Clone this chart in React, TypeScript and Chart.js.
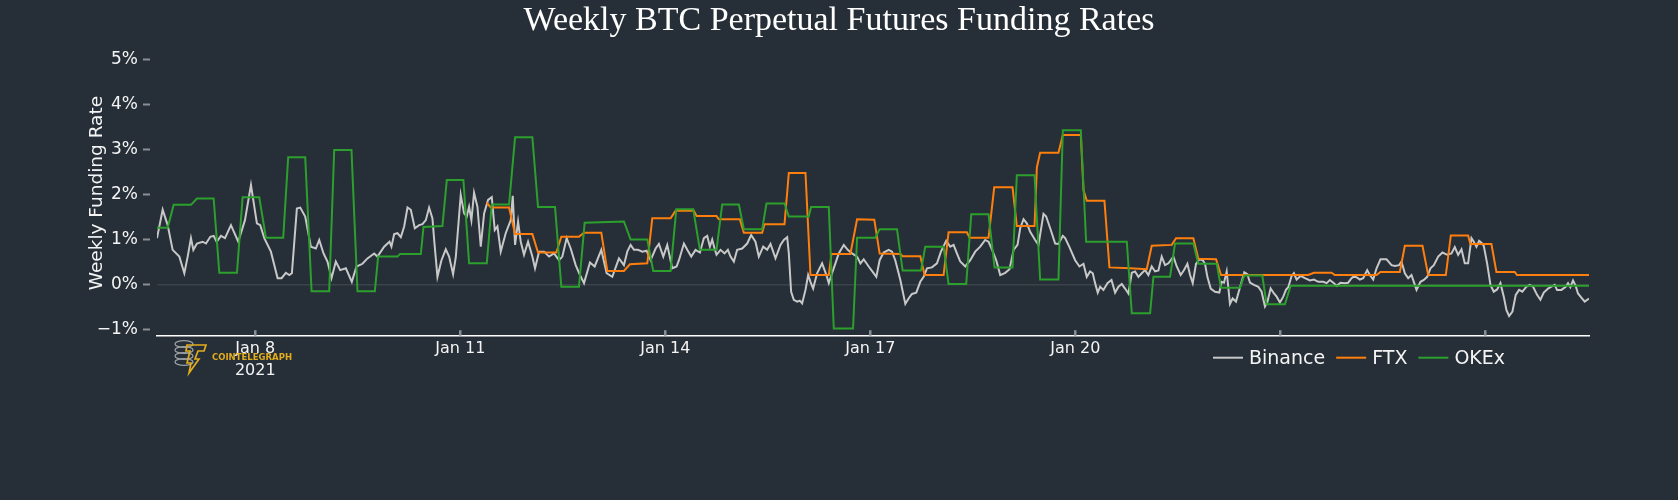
import React, { useEffect, useRef } from 'react';
import { Chart, registerables } from 'chart.js';

Chart.register(...registerables);

// ---------- data ----------
const TITLE = 'Weekly BTC Perpetual Futures Funding Rates';
const Y_TITLE = 'Weekly Funding Rate';
const SERIES_NAMES = ['Binance', 'FTX', 'OKEx'];

// x values are days of January 2021 (8.0 = Jan 8, 00:00)
const X_MIN = 6.562;
const X_MAX = 27.518;
const Y_MIN = -1.138;
const Y_MAX = 5.2;

const xTickDays = [8, 11, 14, 17, 20, 23, 26];
const xTickLabels: (string | string[])[] = [['Jan 8', '2021'], 'Jan 11', 'Jan 14', 'Jan 17', 'Jan 20', '', ''];
const yTickValues = [-1, 0, 1, 2, 3, 4, 5];

// [day, funding rate %]
const binance: [number, number][] = [
  [6.562, 1.03], [6.645, 1.66], [6.718, 1.32], [6.791, 0.77], [6.889, 0.62], [6.962, 0.25], [7.011, 0.62], [7.059, 1.03],
  [7.094, 0.77], [7.147, 0.91], [7.23, 0.95], [7.279, 0.91], [7.342, 1.06], [7.391, 1.08], [7.435, 0.95], [7.498, 1.08],
  [7.557, 1.03], [7.644, 1.32], [7.751, 0.95], [7.849, 1.43], [7.937, 2.21], [8.024, 1.36], [8.073, 1.32], [8.132, 1.03],
  [8.229, 0.73], [8.327, 0.14], [8.385, 0.14], [8.448, 0.26], [8.497, 0.21], [8.536, 0.25], [8.609, 1.69], [8.658, 1.71],
  [8.731, 1.51], [8.814, 0.84], [8.887, 0.8], [8.936, 0.99], [8.999, 0.69], [9.057, 0.51], [9.116, 0.14], [9.179, 0.51],
  [9.243, 0.32], [9.326, 0.36], [9.413, 0.06], [9.481, 0.4], [9.569, 0.46], [9.642, 0.58], [9.74, 0.69], [9.788, 0.62],
  [9.886, 0.84], [9.964, 0.95], [9.993, 0.84], [10.033, 1.12], [10.081, 1.14], [10.13, 1.05], [10.179, 1.29], [10.228, 1.71],
  [10.276, 1.66], [10.335, 1.25], [10.398, 1.32], [10.447, 1.34], [10.496, 1.43], [10.544, 1.71], [10.593, 1.47], [10.618, 0.99],
  [10.666, 0.17], [10.725, 0.54], [10.788, 0.78], [10.837, 0.62], [10.895, 0.23], [10.934, 0.6], [11.007, 1.99], [11.056, 1.58],
  [11.095, 1.51], [11.129, 1.73], [11.163, 1.43], [11.202, 2.04], [11.251, 1.73], [11.3, 0.84], [11.349, 1.58], [11.407, 1.88],
  [11.461, 1.94], [11.505, 1.21], [11.544, 1.29], [11.592, 0.73], [11.665, 1.14], [11.739, 1.43], [11.768, 1.97], [11.802, 0.88],
  [11.846, 1.4], [11.885, 0.95], [11.933, 0.66], [11.992, 0.95], [12.055, 0.62], [12.094, 0.36], [12.153, 0.73], [12.226, 0.73],
  [12.299, 0.62], [12.372, 0.69], [12.445, 0.54], [12.494, 0.62], [12.557, 1.03], [12.616, 0.8], [12.689, 0.43], [12.752, 0.21],
  [12.811, 0.03], [12.898, 0.49], [12.967, 0.4], [13.064, 0.77], [13.142, 0.25], [13.225, 0.17], [13.322, 0.58], [13.395, 0.43],
  [13.444, 0.73], [13.493, 0.88], [13.542, 0.77], [13.6, 0.77], [13.664, 0.73], [13.727, 0.75], [13.785, 0.54], [13.859, 0.8],
  [13.907, 0.9], [13.971, 0.62], [14.029, 0.88], [14.102, 0.36], [14.166, 0.4], [14.2, 0.54], [14.273, 0.91], [14.322, 0.77],
  [14.38, 0.62], [14.443, 0.77], [14.507, 0.71], [14.565, 1.03], [14.614, 1.08], [14.653, 0.84], [14.687, 1.0], [14.721, 0.8],
  [14.75, 0.66], [14.809, 0.77], [14.867, 0.69], [14.916, 0.77], [14.955, 0.62], [15.004, 0.51], [15.052, 0.77], [15.126, 0.8],
  [15.199, 0.91], [15.257, 1.1], [15.32, 0.95], [15.369, 0.62], [15.433, 0.84], [15.491, 0.77], [15.54, 0.9], [15.613, 0.58],
  [15.686, 0.88], [15.735, 0.99], [15.784, 1.05], [15.808, 0.69], [15.842, -0.16], [15.881, -0.34], [15.93, -0.38], [15.969, -0.36],
  [16.003, -0.42], [16.052, -0.12], [16.091, 0.21], [16.125, 0.06], [16.164, -0.09], [16.222, 0.25], [16.295, 0.47], [16.358, 0.21],
  [16.393, 0.03], [16.441, 0.25], [16.49, 0.47], [16.539, 0.69], [16.612, 0.88], [16.67, 0.77], [16.734, 0.69], [16.807, 0.62],
  [16.856, 0.47], [16.904, 0.56], [16.977, 0.4], [17.041, 0.27], [17.089, 0.17], [17.137, 0.54], [17.196, 0.71], [17.269, 0.77],
  [17.318, 0.73], [17.366, 0.54], [17.44, 0.1], [17.513, -0.43], [17.561, -0.31], [17.61, -0.21], [17.673, -0.18], [17.732, 0.06],
  [17.781, 0.17], [17.83, 0.36], [17.903, 0.38], [17.976, 0.47], [18.034, 0.73], [18.112, 0.97], [18.171, 0.84], [18.219, 0.88],
  [18.268, 0.69], [18.317, 0.51], [18.39, 0.4], [18.463, 0.54], [18.536, 0.73], [18.609, 0.84], [18.682, 0.99], [18.731, 0.95],
  [18.78, 0.78], [18.843, 0.54], [18.902, 0.21], [18.975, 0.26], [19.038, 0.34], [19.097, 0.77], [19.155, 0.88], [19.194, 1.25],
  [19.243, 1.45], [19.291, 1.36], [19.34, 1.17], [19.413, 0.99], [19.462, 0.88], [19.535, 1.57], [19.574, 1.51], [19.633, 1.25],
  [19.706, 0.91], [19.754, 0.9], [19.818, 1.08], [19.852, 1.03], [19.915, 0.83], [19.998, 0.54], [20.061, 0.4], [20.12, 0.46],
  [20.168, 0.17], [20.217, 0.29], [20.256, 0.25], [20.29, 0.03], [20.329, -0.18], [20.364, -0.05], [20.412, -0.12], [20.471, 0.03],
  [20.53, 0.1], [20.583, -0.18], [20.632, -0.05], [20.681, 0.01], [20.729, -0.09], [20.778, -0.2], [20.827, 0.26], [20.875, 0.29],
  [20.924, 0.17], [20.973, 0.25], [21.022, 0.32], [21.07, 0.21], [21.119, 0.4], [21.168, 0.29], [21.217, 0.31], [21.265, 0.62],
  [21.314, 0.43], [21.363, 0.47], [21.436, 0.62], [21.485, 0.4], [21.543, 0.21], [21.592, 0.32], [21.641, 0.46], [21.68, 0.21],
  [21.719, 0.03], [21.767, 0.46], [21.816, 0.56], [21.865, 0.54], [21.899, 0.46], [21.933, 0.17], [21.982, -0.09], [22.045, -0.16],
  [22.108, -0.18], [22.143, 0.06], [22.177, 0.04], [22.216, 0.29], [22.264, -0.43], [22.303, -0.31], [22.352, -0.38], [22.42, -0.01],
  [22.474, 0.27], [22.518, 0.23], [22.557, 0.04], [22.615, -0.01], [22.679, -0.05], [22.727, -0.16], [22.776, -0.49], [22.81, -0.4],
  [22.859, -0.09], [22.908, -0.2], [22.947, -0.27], [22.995, -0.4], [23.044, -0.27], [23.083, -0.12], [23.117, -0.06], [23.166, 0.19],
  [23.2, 0.25], [23.239, 0.11], [23.297, 0.19], [23.361, 0.14], [23.434, 0.09], [23.493, 0.11], [23.556, 0.06], [23.629, 0.06],
  [23.678, 0.03], [23.726, 0.1], [23.785, 0.03], [23.824, -0.03], [23.882, 0.04], [23.946, 0.03], [23.994, 0.04], [24.043, 0.14],
  [24.068, 0.17], [24.116, 0.16], [24.165, 0.11], [24.214, 0.14], [24.272, 0.32], [24.311, 0.21], [24.36, 0.11], [24.409, 0.36],
  [24.467, 0.56], [24.555, 0.56], [24.628, 0.43], [24.677, 0.41], [24.74, 0.43], [24.774, 0.51], [24.823, 0.25], [24.872, 0.14],
  [24.92, 0.21], [24.994, -0.12], [25.052, 0.06], [25.101, 0.1], [25.15, 0.17], [25.198, 0.36], [25.247, 0.43], [25.311, 0.62],
  [25.374, 0.71], [25.442, 0.66], [25.505, 0.69], [25.554, 0.83], [25.603, 0.66], [25.652, 0.78], [25.7, 0.47], [25.749, 0.47],
  [25.798, 1.03], [25.832, 0.95], [25.871, 0.84], [25.91, 0.97], [25.944, 0.93], [25.978, 0.86], [26.027, 0.47], [26.076, -0.01],
  [26.124, -0.16], [26.173, -0.11], [26.222, 0.03], [26.271, -0.27], [26.31, -0.57], [26.349, -0.7], [26.398, -0.6], [26.446, -0.23],
  [26.495, -0.12], [26.543, -0.16], [26.602, -0.05], [26.651, -0.01], [26.7, -0.05], [26.758, -0.23], [26.807, -0.34], [26.856, -0.18],
  [26.919, -0.09], [26.967, -0.05], [27.016, -0.01], [27.05, -0.12], [27.114, -0.12], [27.177, -0.05], [27.211, 0.03], [27.245, -0.06],
  [27.284, 0.09], [27.323, -0.03], [27.357, -0.2], [27.406, -0.29], [27.455, -0.38], [27.518, -0.31],
];

const ftx: [number, number][] = [
  [11.388, 1.82], [11.446, 1.71], [11.714, 1.71], [11.802, 1.12], [12.055, 1.12], [12.138, 0.71], [12.406, 0.71], [12.479, 1.06],
  [12.737, 1.06], [12.811, 1.15], [13.064, 1.15], [13.152, 0.3], [13.395, 0.3], [13.483, 0.45], [13.737, 0.47], [13.81, 1.47],
  [14.078, 1.47], [14.151, 1.64], [14.419, 1.64], [14.458, 1.52], [14.75, 1.52], [14.784, 1.45], [15.091, 1.45], [15.15, 1.15],
  [15.418, 1.15], [15.452, 1.34], [15.745, 1.34], [15.808, 2.48], [16.052, 2.48], [16.125, 0.21], [16.393, 0.21], [16.432, 0.68],
  [16.709, 0.68], [16.807, 1.45], [17.059, 1.44], [17.137, 0.69], [17.44, 0.68], [17.474, 0.63], [17.732, 0.63], [17.795, 0.21],
  [18.073, 0.21], [18.146, 1.16], [18.414, 1.16], [18.453, 1.04], [18.731, 1.04], [18.814, 2.16], [19.082, 2.16], [19.145, 1.3],
  [19.404, 1.3], [19.438, 2.6], [19.486, 2.93], [19.754, 2.93], [19.818, 3.32], [20.081, 3.32], [20.12, 2.1], [20.168, 1.86],
  [20.427, 1.86], [20.5, 0.38], [20.802, 0.36], [21.046, 0.34], [21.119, 0.86], [21.412, 0.88], [21.475, 1.03], [21.728, 1.03],
  [21.801, 0.57], [22.06, 0.56], [22.133, 0.21], [23.41, 0.21], [23.493, 0.26], [23.751, 0.26], [23.799, 0.21], [24.409, 0.21],
  [24.467, 0.28], [24.75, 0.28], [24.823, 0.86], [25.081, 0.86], [25.164, 0.21], [25.423, 0.21], [25.496, 1.09], [25.749, 1.09],
  [25.783, 0.9], [26.09, 0.9], [26.163, 0.28], [26.431, 0.28], [26.465, 0.21], [27.518, 0.21],
];

const okex: [number, number][] = [
  [6.562, 1.26], [6.718, 1.26], [6.806, 1.77], [7.059, 1.77], [7.147, 1.91], [7.391, 1.91], [7.474, 0.26], [7.732, 0.26],
  [7.815, 1.94], [8.058, 1.94], [8.156, 1.04], [8.409, 1.04], [8.482, 2.83], [8.731, 2.83], [8.824, -0.15], [9.082, -0.15],
  [9.155, 2.99], [9.408, 2.99], [9.496, -0.15], [9.75, -0.15], [9.798, 0.62], [10.081, 0.62], [10.12, 0.68], [10.423, 0.68],
  [10.462, 1.28], [10.739, 1.3], [10.803, 2.32], [11.046, 2.32], [11.129, 0.47], [11.388, 0.47], [11.461, 1.78], [11.714, 1.78],
  [11.802, 3.27], [12.055, 3.27], [12.138, 1.72], [12.387, 1.72], [12.479, -0.05], [12.737, -0.05], [12.82, 1.37], [13.395, 1.4],
  [13.493, 1.0], [13.737, 1.0], [13.824, 0.3], [14.078, 0.3], [14.161, 1.67], [14.409, 1.67], [14.507, 0.77], [14.75, 0.77],
  [14.833, 1.78], [15.077, 1.78], [15.15, 1.23], [15.418, 1.23], [15.481, 1.8], [15.745, 1.8], [15.808, 1.51], [16.1, 1.51],
  [16.134, 1.72], [16.393, 1.72], [16.466, -0.98], [16.748, -0.98], [16.807, 1.04], [17.074, 1.04], [17.137, 1.23], [17.391, 1.23],
  [17.474, 0.31], [17.742, 0.31], [17.805, 0.84], [18.073, 0.84], [18.146, 0.01], [18.404, 0.01], [18.478, 1.56], [18.731, 1.56],
  [18.819, 0.38], [19.082, 0.38], [19.145, 2.43], [19.404, 2.43], [19.486, 0.11], [19.754, 0.11], [19.818, 3.43], [20.081, 3.43],
  [20.159, 0.95], [20.754, 0.95], [20.827, -0.64], [21.095, -0.64], [21.144, 0.17], [21.387, 0.17], [21.46, 0.91], [21.728, 0.91],
  [21.801, 0.46], [22.07, 0.46], [22.133, -0.07], [22.411, -0.07], [22.474, 0.2], [22.737, 0.2], [22.8, -0.44], [23.068, -0.44],
  [23.151, -0.03], [27.518, -0.03],
];

// ---------- styling ----------
const BG = '#262f37';
const TEXT = '#f4f4f4';
const TICK_MARK = '#8a8f93';
const ZERO_LINE = '#3b434a';
const COLORS = ['#c8c8c8', '#ff7f0e', '#2ca02c'];
const SANS = '"DejaVu Sans", Verdana, sans-serif';
const SERIF = '"Liberation Serif", "Times New Roman", serif';

const fmtPct = (v: number) => (v < 0 ? '\u2212' : '') + Math.abs(v) + '%';

const decorPlugin = {
  id: 'decor',
  beforeDatasetsDraw(chart: any) {
    const { ctx, chartArea, scales } = chart;
    ctx.save();
    ctx.strokeStyle = TICK_MARK;
    // x tick marks (inside, above the axis line)
    ctx.lineWidth = 2.5;
    scales.x.ticks.forEach((t: any) => {
      const px = scales.x.getPixelForValue(t.value);
      ctx.beginPath();
      ctx.moveTo(px, chartArea.bottom - 5.5);
      ctx.lineTo(px, chartArea.bottom);
      ctx.stroke();
    });
    // y tick marks (outside, with a gap)
    ctx.lineWidth = 2;
    scales.y.ticks.forEach((t: any) => {
      const py = scales.y.getPixelForValue(t.value);
      ctx.beginPath();
      ctx.moveTo(chartArea.left - 14, py);
      ctx.lineTo(chartArea.left - 7, py);
      ctx.stroke();
    });
    ctx.restore();
  },
  afterDraw(chart: any) {
    const { ctx, chartArea } = chart;
    ctx.save();
    // title
    ctx.fillStyle = '#ffffff';
    ctx.font = `34px ${SERIF}`;
    ctx.textAlign = 'center';
    ctx.textBaseline = 'alphabetic';
    ctx.fillText(TITLE, chart.width / 2, 29.5);

    // legend
    let lx = 1213;
    const ly = chartArea.bottom + 22;
    ctx.font = `19px ${SANS}`;
    ctx.textAlign = 'left';
    ctx.textBaseline = 'middle';
    chart.data.datasets.forEach((ds: any) => {
      ctx.strokeStyle = ds.borderColor;
      ctx.lineWidth = 2;
      ctx.beginPath();
      ctx.moveTo(lx, ly);
      ctx.lineTo(lx + 30, ly);
      ctx.stroke();
      ctx.fillStyle = TEXT;
      ctx.fillText(ds.label, lx + 36, ly + 1);
      lx += 36 + ctx.measureText(ds.label).width + 11;
    });

    // watermark logo
    ctx.strokeStyle = '#9a9ea2';
    ctx.lineWidth = 1.3;
    [344, 350, 356, 362].forEach((cy) => {
      ctx.beginPath();
      ctx.ellipse(184, cy, 9, 3.4, 0, 0, Math.PI * 2);
      ctx.stroke();
    });
    ctx.strokeStyle = '#e2ac1c';
    ctx.lineWidth = 1.7;
    ctx.beginPath();
    ctx.moveTo(187, 345);
    ctx.lineTo(206, 345);
    ctx.lineTo(204, 351);
    ctx.lineTo(198, 351);
    ctx.lineTo(195, 359);
    ctx.lineTo(199, 359);
    ctx.lineTo(189, 373);
    ctx.lineTo(191, 363);
    ctx.lineTo(187, 363);
    ctx.lineTo(190, 351);
    ctx.lineTo(186, 351);
    ctx.closePath();
    ctx.stroke();
    ctx.fillStyle = '#e2ac1c';
    ctx.font = `bold 9.5px ${SANS}`;
    ctx.textBaseline = 'middle';
    ctx.fillText('COINTELEGRAPH', 212, 357.5, 80);
    ctx.restore();
  },
};

export default function App() {
  const ref = useRef<HTMLCanvasElement | null>(null);

  useEffect(() => {
    if (!ref.current) return;
    const series = [binance, ftx, okex];
    const chart = new Chart(ref.current, {
      type: 'line',
      data: {
        datasets: series.map((s, i) => ({
          label: SERIES_NAMES[i],
          data: s.map(([x, y]) => ({ x, y })),
          borderColor: COLORS[i],
          backgroundColor: COLORS[i],
          borderWidth: 2,
          pointRadius: 0,
          tension: 0,
          fill: false,
          order: 3 - i,
        })),
      },
      options: {
        responsive: false,
        animation: false,
        events: [],
        layout: { padding: { top: 50.5, right: 89, bottom: 0, left: 0 } },
        plugins: {
          legend: { display: false },
          title: { display: false },
          tooltip: { enabled: false },
        },
        scales: {
          x: {
            type: 'linear',
            min: X_MIN,
            max: X_MAX,
            afterBuildTicks: (s: any) => {
              s.ticks = xTickDays.map((v) => ({ value: v }));
            },
            afterFit: (s: any) => {
              s.height = 500 - 335.7;
            },
            grid: { display: false, drawTicks: false },
            border: { display: true, color: '#ffffff', width: 1.5 },
            ticks: {
              color: TEXT,
              font: { family: SANS, size: 16, lineHeight: 1.38 },
              padding: 2,
              maxRotation: 0,
              autoSkip: false,
              callback: (_v: any, i: number) => xTickLabels[i],
            },
          },
          y: {
            type: 'linear',
            min: Y_MIN,
            max: Y_MAX,
            afterBuildTicks: (s: any) => {
              s.ticks = yTickValues.map((v) => ({ value: v }));
            },
            afterFit: (s: any) => {
              s.width = 157;
            },
            grid: {
              drawTicks: false,
              lineWidth: 1.6,
              color: (c: any) => (c.tick && c.tick.value === 0 ? ZERO_LINE : 'rgba(0,0,0,0)'),
            },
            border: { display: false },
            ticks: {
              color: TEXT,
              font: { family: SANS, size: 17 },
              padding: 19,
              callback: (v: any) => fmtPct(Number(v)),
            },
            title: {
              display: true,
              text: Y_TITLE,
              color: TEXT,
              font: { family: SANS, size: 18.5 },
              padding: { top: 85.6, bottom: 0 },
            },
          },
        },
      },
      plugins: [decorPlugin],
    });
    return () => chart.destroy();
  }, []);

  return (
    <div style={{ position: 'fixed', left: 0, top: 0, width: 1678, height: 500, background: BG }}>
      <canvas ref={ref} width={1678} height={500} style={{ display: 'block', width: 1678, height: 500 }} />
    </div>
  );
}
